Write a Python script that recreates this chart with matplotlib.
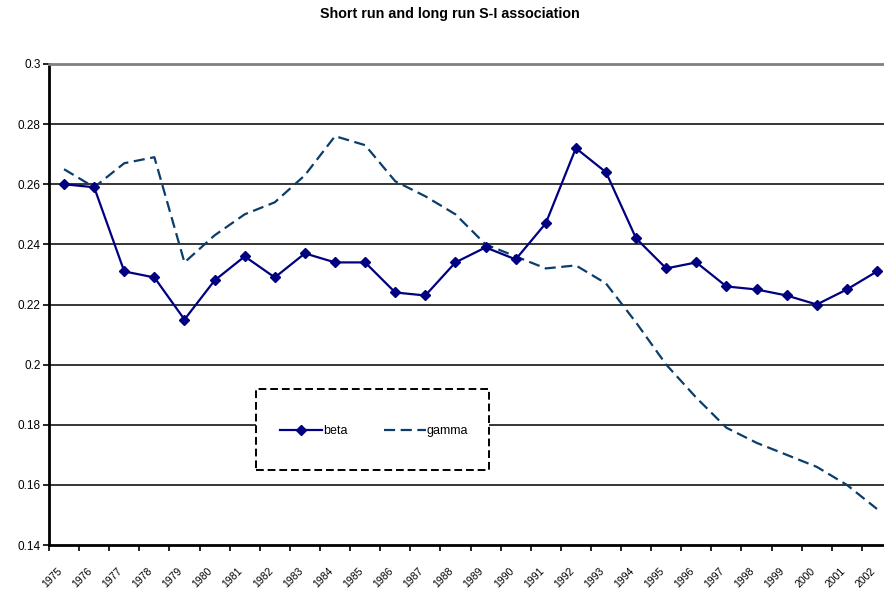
import numpy as np
import matplotlib.pyplot as plt
from matplotlib.patches import Rectangle
from matplotlib.transforms import ScaledTranslation

plt.rcParams['font.family'] = ['Liberation Sans', 'DejaVu Sans']

# Data
years = [str(y) for y in range(1975, 2003)]
beta = [0.260, 0.259, 0.231, 0.229, 0.215, 0.228, 0.236, 0.229, 0.237, 0.234,
        0.234, 0.224, 0.223, 0.234, 0.239, 0.235, 0.247, 0.272, 0.264, 0.242,
        0.232, 0.234, 0.226, 0.225, 0.223, 0.220, 0.225, 0.231]
gamma = [0.265, 0.259, 0.267, 0.269, 0.234, 0.243, 0.250, 0.254, 0.263, 0.276,
         0.273, 0.261, 0.256, 0.250, 0.240, 0.236, 0.232, 0.233, 0.227, 0.214,
         0.200, 0.189, 0.179, 0.174, 0.170, 0.166, 0.160, 0.152]
yticks = [0.14, 0.16, 0.18, 0.2, 0.22, 0.24, 0.26, 0.28, 0.3]

W, H = 884, 596
fig = plt.figure(figsize=(W / 100, H / 100), dpi=100)
# plot area is cut off on the right in the original
ax = fig.add_axes([49 / W, 1 - 545 / H, (892 - 49) / W, (545 - 64) / H])

x = np.arange(len(years))
ax.plot(x, beta, color='#000080', lw=1.6, marker='D', ms=5.5, label='beta', zorder=4)
ax.plot(x, gamma, color='#0B3D6B', lw=1.6, ls=(0, (5, 2.5)), label='gamma', zorder=3)

ax.set_xlim(-0.5, len(years) - 0.5)
ax.set_ylim(0.14, 0.3)
ax.set_yticks(yticks)
ax.set_yticklabels([f'{v:g}' for v in yticks], fontsize=8.5)
for v in yticks[1:-1]:
    ax.axhline(v, color='black', lw=1.1, zorder=1)

ax.set_xticks(x)
ax.set_xticklabels(years, rotation=45, ha='right', fontsize=7.5)
shift = ScaledTranslation(-5 / 72, 0, fig.dpi_scale_trans)
for lab in ax.get_xticklabels():
    lab.set_transform(lab.get_transform() + shift)
ax.set_xticks(np.arange(len(years) + 1) - 0.5, minor=True)
ax.tick_params(axis='x', which='major', length=0, pad=15)
ax.tick_params(axis='x', which='minor', length=4, width=1.2)
ax.tick_params(axis='y', length=4, width=1.2, pad=2)

ax.spines['left'].set_linewidth(2)
ax.spines['bottom'].set_linewidth(2)
ax.spines['top'].set_color('#808080')
ax.spines['top'].set_linewidth(2)
ax.spines['right'].set_visible(False)

fig.text(450 / W, 1 - 14 / H, 'Short run and long run S-I association',
         ha='center', va='center', fontsize=10.3, fontweight='bold')

# Legend box with dashed border
fig.patches.append(Rectangle((256 / W, 1 - 470 / H), (489 - 256) / W, (470 - 389) / H,
                             transform=fig.transFigure, facecolor='white',
                             edgecolor='black', lw=1.4, ls=(0, (4, 2)), zorder=5))
leg = fig.legend(loc='center', bbox_to_anchor=(374 / W, 1 - 431 / H), ncol=2,
                 frameon=False, fontsize=9, handlelength=3.4, handletextpad=0.05,
                 columnspacing=2.9)
leg.set_zorder(6)

fig.savefig('out.png', dpi=100)
